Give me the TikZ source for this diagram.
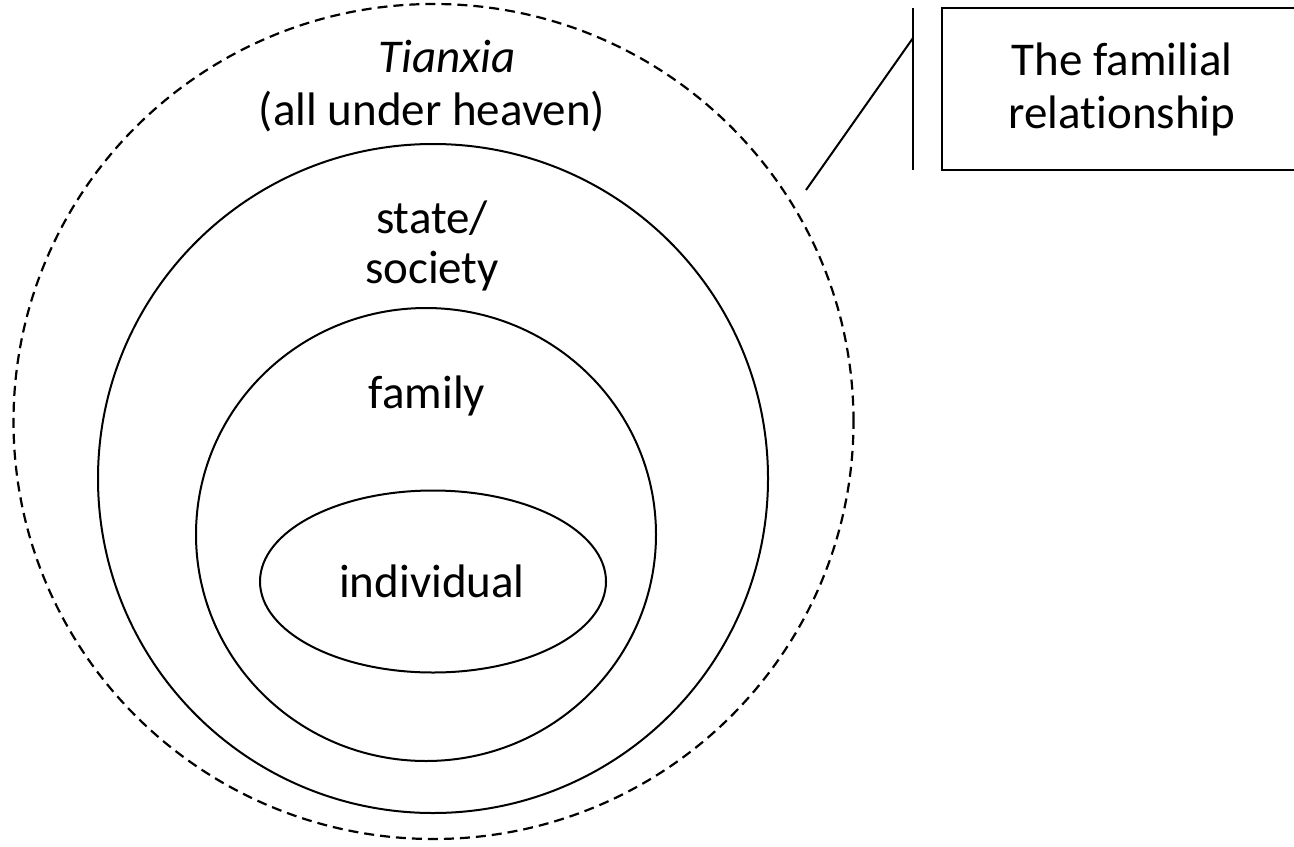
\documentclass[tikz,border=0pt]{standalone}
\usepackage{fontspec}
\setmainfont{Carlito}[Ligatures=NoCommon]
\begin{document}
\begin{tikzpicture}[x=0.5pt,y=-0.5pt,
  ring/.style={draw=black,line width=1pt},
  dashring/.style={draw=black,line width=1.1pt,dash pattern=on 5pt off 3pt},
  lbl/.style={inner sep=0pt,anchor=base,font=\fontsize{23.5}{28}\selectfont},
  callbox/.style={draw=black,line width=1pt,rectangle,inner sep=0pt,minimum width=177pt,minimum height=81pt},
  callline/.style={draw=black,line width=1pt}]
\useasboundingbox (0,0) rectangle (1294,846);
% rings
\draw[dashring] (433.5,421.5) ellipse [x radius=210pt, y radius=208.75pt];
\draw[ring] (433,478.5) ellipse [x radius=167.5pt, y radius=167.25pt];
\draw[ring] (426,534.5) ellipse [x radius=115pt, y radius=113.25pt];
\draw[ring] (433,581.5) ellipse [x radius=86.5pt, y radius=45.5pt];
% labels
\node[lbl] (tianxia) at (447,72) {\itshape Tianxia};
\node[lbl] (heaven) at (432,125) {(all under heaven)};
\node[lbl] (state) at (432,233) {state/};
\node[lbl] (society) at (432,283) {society};
\node[lbl] (family) at (427,408) {family};
\node[lbl] (individual) at (432,597) {individual};
% callout
\node[callbox] (box) at (1119,89) {};
\node[lbl] (fam1) at (1122,75) {The familial};
\node[lbl] (fam2) at (1122,128) {relationship};
\coordinate (barTop) at (913,8);
\coordinate (barBot) at (913,170);
\coordinate (barJoin) at (913,38);
\coordinate (tip) at (806,190);
\draw[callline] (barTop) -- (barBot);
\draw[callline] (barJoin) -- (tip);
\end{tikzpicture}
\end{document}
